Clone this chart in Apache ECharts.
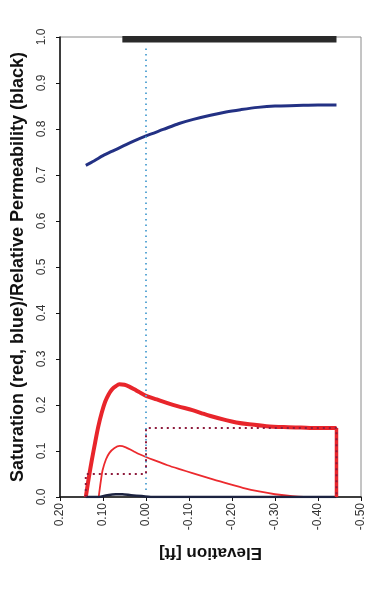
<!DOCTYPE html>
<html>
<head>
<meta charset="utf-8">
<script src="https://cdn.jsdelivr.net/npm/echarts@6/dist/echarts.min.js"></script>
<style>
  html, body { margin: 0; padding: 0; background: #fff; }
  #chart { width: 367px; height: 602px; }
</style>
</head>
<body>
<div id="chart"></div>
<script>
// Elevation [ft] vs saturation / relative permeability profiles
const elevTicks = [0.2, 0.1, 0.0, -0.1, -0.2, -0.3, -0.4, -0.5];
const satTicks = [0, 0.1, 0.2, 0.3, 0.4, 0.5, 0.6, 0.7, 0.8, 0.9, 1.0];

// blue saturation curve
const blueElev = [0.14, 0.12, 0.1, 0.078, 0.055, 0.03, 0.0, -0.04, -0.077, -0.11, -0.15, -0.186, -0.22, -0.26, -0.3, -0.35, -0.4, -0.443];
const blueSat  = [0.721, 0.731, 0.742, 0.752, 0.762, 0.773, 0.785, 0.799, 0.812, 0.821, 0.83, 0.837, 0.842, 0.847, 0.85, 0.851, 0.852, 0.852];

// thick red saturation curve
const redElev = [0.14, 0.133, 0.126, 0.118, 0.111, 0.103, 0.095, 0.087, 0.079, 0.07, 0.062, 0.05, 0.039, 0.027, 0.016, 0.0, -0.025, -0.05, -0.075, -0.108, -0.13, -0.15, -0.186, -0.21, -0.24, -0.28, -0.32, -0.36, -0.4, -0.443];
const redSat  = [0.0, 0.042, 0.08, 0.12, 0.153, 0.183, 0.207, 0.223, 0.234, 0.241, 0.245, 0.244, 0.24, 0.234, 0.228, 0.22, 0.212, 0.204, 0.197, 0.189, 0.182, 0.176, 0.167, 0.162, 0.158, 0.154, 0.152, 0.151, 0.15, 0.15];

// thin red saturation curve
const red2Elev = [0.11, 0.105, 0.101, 0.093, 0.085, 0.074, 0.061, 0.047, 0.03, 0.015, 0.0, -0.025, -0.05, -0.08, -0.108, -0.15, -0.186, -0.225, -0.263, -0.3, -0.34, -0.39, -0.443];
const red2Sat  = [0.0, 0.035, 0.058, 0.082, 0.096, 0.106, 0.111, 0.108, 0.1, 0.093, 0.087, 0.078, 0.069, 0.06, 0.052, 0.04, 0.03, 0.02, 0.012, 0.006, 0.002, 0.0, 0.0];

// dotted step profile
const stepElev = [0.14, 0.14, 0.0, 0.0, -0.443, -0.443];
const stepSat  = [0.0, 0.05, 0.05, 0.15, 0.15, 0.0];

// black relative permeability: near-zero hump and upper plateau
const kLowElev = [0.14, 0.11, 0.09, 0.07, 0.055, 0.035, 0.01, -0.02, -0.443];
const kLowVal  = [0.0, 0.0, 0.004, 0.006, 0.006, 0.004, 0.002, 0.0, 0.0];
const kTopElev = [0.055, -0.443];
const kTopVal  = [0.995, 0.995];

// reference elevation marker
const refElev = [0.0, 0.0];
const refVal  = [0.015, 0.978];

const pairs = (xs, ys) => xs.map((x, i) => [x, ys[i]]);

const chart = echarts.init(document.getElementById('chart'));
const font = 'Liberation Sans, Arial, sans-serif';

const curve = (name, xs, ys, color, width, z) => ({
  name, type: 'line', symbol: 'none', smooth: 0.3,
  data: pairs(xs, ys), lineStyle: { color, width, join: 'round' }, z: z || 2
});

chart.setOption({
  animation: false,
  backgroundColor: '#ffffff',
  grid: {
    left: 60, right: 5, top: 37, bottom: 105,
    show: true, borderColor: '#8a8a8a', borderWidth: 1
  },
  xAxis: {
    type: 'value',
    inverse: true,
    min: -0.5, max: 0.2, interval: 0.1,
    name: 'Elevation [ft]',
    nameLocation: 'middle',
    nameGap: 47,
    nameRotate: 180,
    nameTextStyle: { fontFamily: font, fontWeight: 'bold', fontSize: 17, color: '#111' },
    axisLine: { show: true, onZero: false, lineStyle: { color: '#111', width: 1.5 } },
    axisTick: { show: true, length: 4, lineStyle: { color: '#111' } },
    axisLabel: {
      rotate: 90, margin: 6, fontFamily: font, fontSize: 12, color: '#333',
      formatter: v => (Math.abs(v) < 1e-9 ? 0 : v).toFixed(2)
    },
    splitLine: { show: false }
  },
  yAxis: {
    type: 'value',
    min: 0, max: 1, interval: 0.1,
    name: 'Saturation (red, blue)/Relative Permeability (black)',
    nameLocation: 'middle',
    nameGap: 33,
    nameTextStyle: { fontFamily: font, fontWeight: 'bold', fontSize: 18, color: '#111' },
    axisLine: { show: true, onZero: false, lineStyle: { color: '#111', width: 1.5 } },
    axisTick: { show: true, length: 4, lineStyle: { color: '#111' } },
    axisLabel: {
      rotate: 90, margin: 12, fontFamily: font, fontSize: 12, color: '#333',
      formatter: v => v.toFixed(1)
    },
    splitLine: { show: false }
  },
  series: [
    {
      name: 'reference', type: 'line', symbol: 'none',
      data: pairs(refElev, refVal),
      lineStyle: { color: '#5fa9d6', width: 2, type: [1.5, 4] }
    },
    {
      name: 'step', type: 'line', symbol: 'none',
      data: pairs(stepElev, stepSat),
      lineStyle: { color: '#8e1b3c', width: 2, type: [2, 4] },
      z: 4
    },
    curve('red thin', red2Elev, red2Sat, '#ec2a2e', 1.8),
    curve('red thick', redElev, redSat, '#e8252b', 4),
    {
      name: 'red thick edge', type: 'line', symbol: 'none',
      data: [[redElev[redElev.length - 1], redSat[redSat.length - 1]], [redElev[redElev.length - 1], 0]],
      lineStyle: { color: '#e8252b', width: 3.5 }
    },
    curve('blue', blueElev, blueSat, '#233184', 3),
    curve('k low', kLowElev, kLowVal, '#1c2340', 2.5),
    {
      name: 'k top', type: 'line', symbol: 'none',
      data: pairs(kTopElev, kTopVal),
      lineStyle: { color: '#2a2a2a', width: 6.5, cap: 'butt' }
    }
  ]
});
</script>
</body>
</html>
